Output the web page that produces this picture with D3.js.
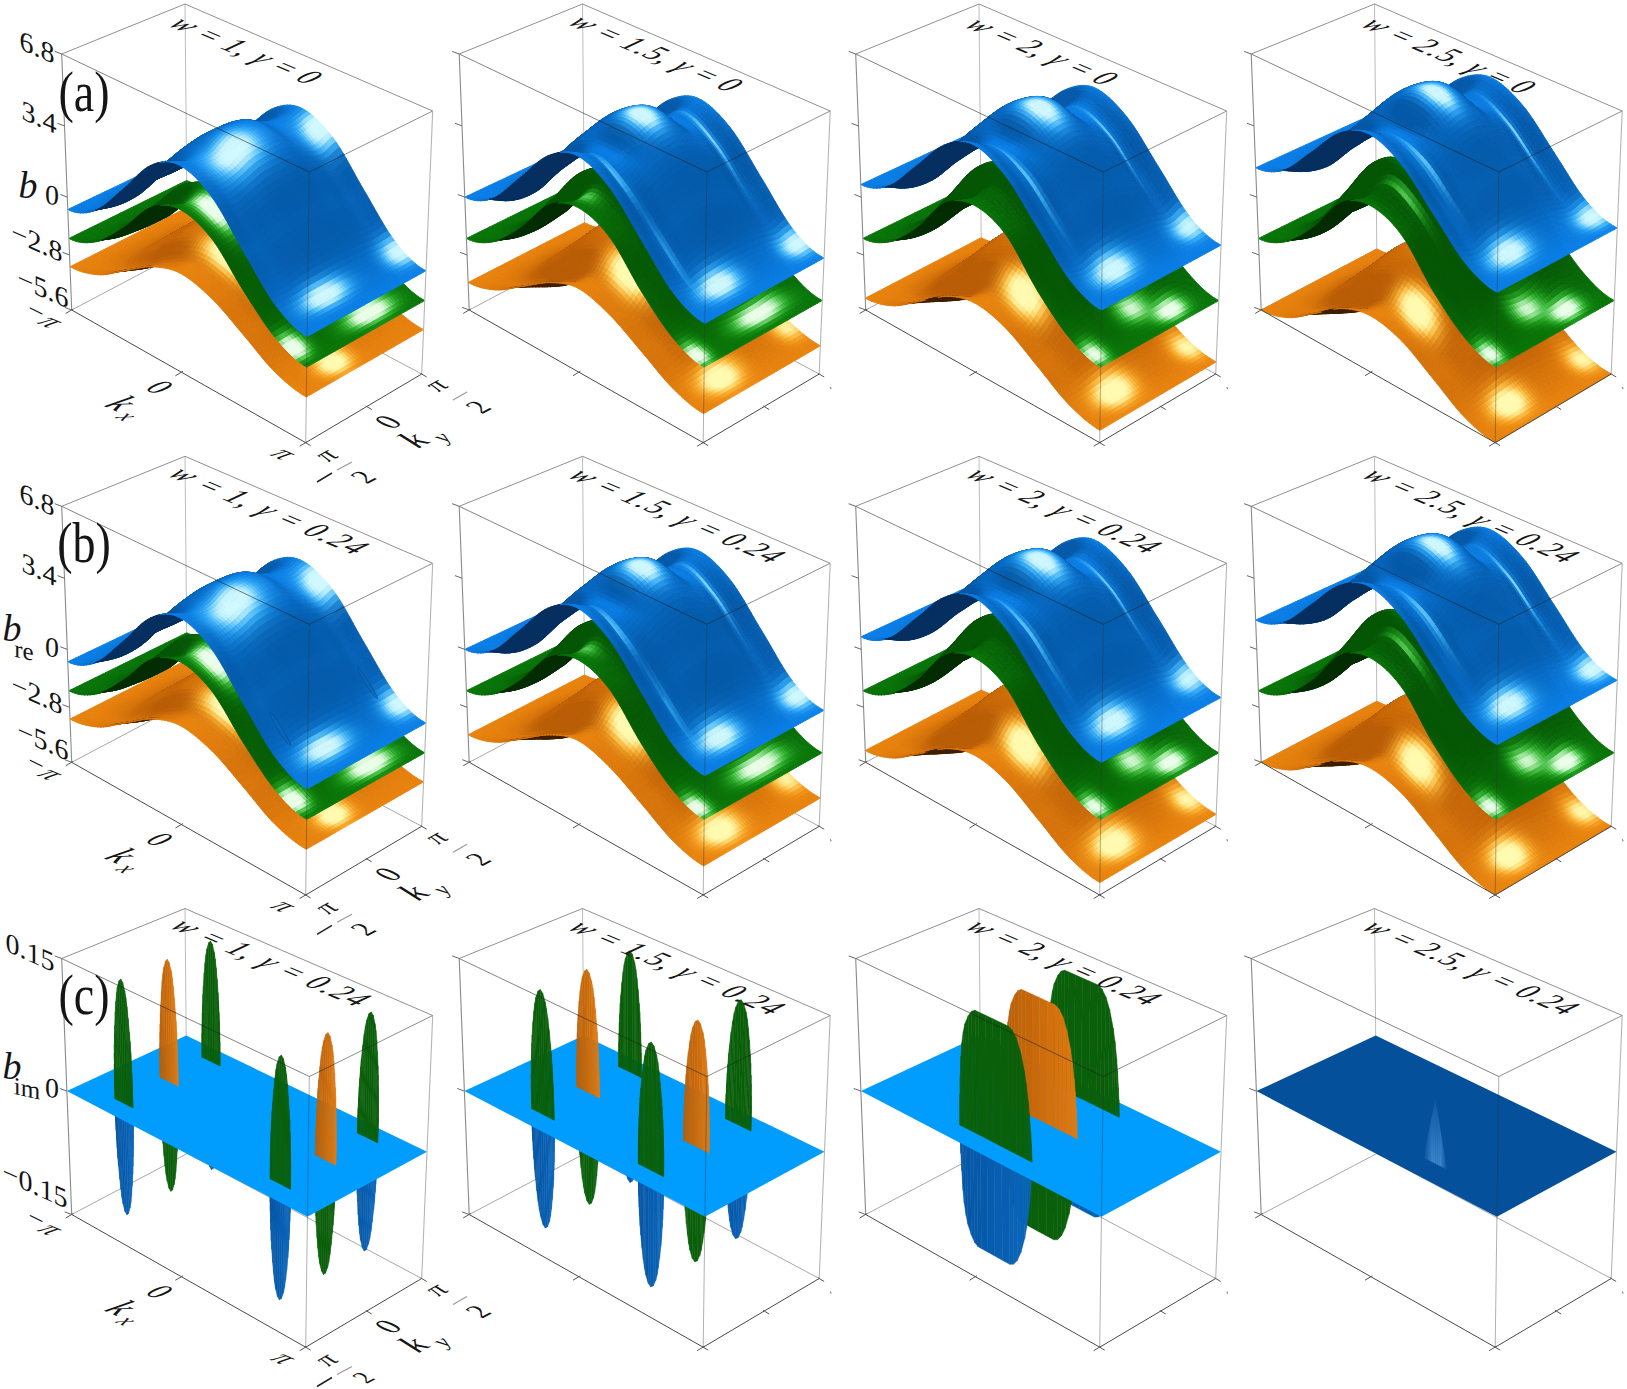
<!DOCTYPE html>
<html>
<head>
<meta charset="utf-8">
<script src="https://cdnjs.cloudflare.com/ajax/libs/d3/7.8.5/d3.min.js"></script>
<style>
  html,body{margin:0;padding:0;background:#fff;}
  text{font-family:"Liberation Serif",serif;fill:#151515;}
</style>
</head>
<body>
<svg id="chart" width="1627" height="1389"></svg>
<script>
'use strict';
const PI = Math.PI;

const couplings = ["1", "1.5", "2", "2.5"];
const gammas = ["0", "0.24", "0.24"];
const reTicks = [6.8, 3.4, 0, -2.8, -5.6];
const imTicks = [0.15, 0, -0.15];
const kxTicks = [-PI, 0, PI];
const kyTicks = [-PI / 2, 0, PI / 2];

// band height, kx = 0..pi (columns), ky = 0..pi/2 (rows 0-4)
// row 5 is ky = 3pi/8 again but on the far side kx < 0, where the surface folds under
const blueW1 = [[4.6,3.85,2,.15,-.6],[4.5,3.8,1.95,.12,-.6],[4.05,3.5,1.85,.1,-.6],[4.05,3.3,1.6,.03,-.6],[4.25,3.55,1.75,.07,-.6],[4.05,2.95,1.15,-.1,-.6]];
const blueW15 = [[5.4,4.6,2.7,.75,0],[5.2,4.4,2.6,.72,0],[4.3,4,2.35,.65,0],[4.4,3.6,1.95,.5,0],[4.7,4,2.3,.64,0],[4.4,3.1,1.3,.2,0]];
const blueW2 = [[5.8,5.05,3.2,1.32,.6],[5.6,4.85,3.1,1.28,.6],[4.65,4.4,2.85,1.2,.6],[4.75,4.05,2.45,1.05,.6],[5.2,4.5,2.85,1.23,.6],[4.75,3.5,1.85,.8,.6]];
const blueW25 = [[6.5,5.75,3.9,2.1,1.4],[6.3,5.55,3.8,2.05,1.4],[5.2,5,3.55,1.95,1.4],[5.3,4.6,3.1,1.8,1.4],[5.7,5.05,3.5,1.98,1.4],[5.3,4.1,2.5,1.6,1.4]];
const greenW1 = [[1.9,1.33,-.05,-1.43,-2],[2.1,1.5,0,-1.42,-2],[2.5,1.9,.3,-1.35,-2],[2.2,1.6,.15,-1.4,-2],[2.2,1.6,-.05,-1.43,-2],[2.2,.8,-.5,-1.6,-2]];
const greenW15 = [[1.7,1.15,-.15,-1.45,-2],[2.2,1.6,.05,-1.4,-2],[3.3,2.5,.6,-1.25,-2],[2.6,1.9,.3,-1.35,-2],[2.3,1.7,-.05,-1.43,-2],[2.6,1,-.5,-1.6,-2]];
const greenW2 = [[1.6,1.05,-.2,-1.47,-2],[2.3,1.7,.1,-1.38,-2],[3.6,2.75,.75,-1.2,-2],[2.8,2.1,.4,-1.3,-2],[2.4,1.8,-.05,-1.43,-2],[2.8,1.1,-.5,-1.6,-2]];
const greenW25 = [[1.5,.97,-.25,-1.48,-2],[2.3,1.7,.1,-1.38,-2],[3.8,2.95,.85,-1.15,-2],[3,2.3,.5,-1.25,-2],[2.4,1.8,-.05,-1.43,-2],[3,1.2,-.5,-1.6,-2]];
const orangeW1 = [[.5,-.07,-1.45,-2.83,-3.4],[.35,-.2,-1.5,-2.85,-3.4],[-.1,-.55,-1.75,-2.9,-3.4],[-.75,-1.1,-2.05,-3,-3.4],[-.8,-1.2,-2.1,-3.03,-3.4],[-.75,-1.4,-2.35,-3.1,-3.4]];
const orangeW15 = [[.2,-.44,-2,-3.56,-4.2],[0,-.6,-2.1,-3.6,-4.2],[-.6,-1.15,-2.4,-3.7,-4.2],[-1.4,-1.85,-2.85,-3.8,-4.2],[-1.5,-1.95,-2.85,-3.8,-4.2],[-1.4,-2.4,-3.2,-3.9,-4.2]];
const orangeW2 = [[-.3,-1,-2.65,-4.3,-5],[-.5,-1.2,-2.75,-4.33,-5],[-1.2,-1.75,-3.1,-4.45,-5],[-2.1,-2.5,-3.55,-4.55,-5],[-2.2,-2.6,-3.6,-4.6,-5],[-2.1,-3.1,-3.95,-4.7,-5]];
const orangeW25 = [[-.9,-1.6,-3.25,-4.9,-5.6],[-1.1,-1.8,-3.35,-4.95,-5.6],[-1.8,-2.35,-3.7,-5.05,-5.6],[-2.7,-3.15,-4.15,-5.15,-5.6],[-2.8,-3.2,-4.2,-5.2,-5.6],[-2.7,-3.7,-4.55,-5.25,-5.6]];

// glossy spots seen on each band: [along kx, along ky, width kx, width ky, strength], as axis fractions
const spotsBlueW1 = [[.52,.35,.045,.12,1],[.56,.97,.04,.08,1],[.91,.33,.025,.12,1],[.9,.97,.03,.08,.9]];
const spotsBlueW15 = [[.49,.5,.04,.06,1.1],[.58,.87,.07,.012,.5],[.91,.95,.03,.08,.9],[.91,.3,.028,.1,1],[.56,.13,.05,.012,.5],[.78,.15,.06,.012,.25]];
const spotsBlueW2 = [[.5,.5,.045,.06,1.1],[.6,.85,.07,.01,.45],[.89,.95,.03,.08,.8],[.9,.3,.03,.1,1],[.6,.17,.08,.01,.45]];
const spotsBlueW25 = [[.5,.5,.045,.05,1.1],[.63,.87,.07,.01,.5],[.92,.95,.03,.08,.9],[.9,.3,.03,.1,1],[.6,.18,.07,.012,.45]];
const spotsGreenW1 = [[.53,.15,.05,.05,1.1],[.92,.05,.03,.06,1.1],[.94,.65,.025,.12,1.1]];
const spotsGreenW15 = [[.46,.1,.03,.03,.4],[.95,.04,.03,.05,1],[.93,.6,.025,.13,1]];
const spotsGreenW2 = [[.95,.05,.03,.05,.9],[.945,.7,.025,.08,1],[.88,.5,.03,.08,.7]];
const spotsGreenW25 = [[.55,.15,.05,.012,.45],[.95,.05,.03,.05,.9],[.945,.7,.025,.08,1],[.88,.5,.03,.08,.7]];
const spotsOrangeW1 = [[.54,.25,.06,.05,1],[.94,.35,.03,.08,1.1]];
const spotsOrangeW15 = [[.56,.25,.05,.06,1.1],[.92,.3,.035,.1,1.1],[.88,.95,.035,.07,.7]];
const spotsOrangeW2 = [[.57,.22,.05,.055,1.1],[.91,.3,.035,.1,1.1],[.9,.95,.035,.07,.8]];
const spotsOrangeW25 = [[.57,.2,.05,.05,1.1],[.91,.3,.035,.09,1.1],[.9,.95,.035,.07,.8]];

const blueBands = [blueW1, blueW15, blueW2, blueW25];
const greenBands = [greenW1, greenW15, greenW2, greenW25];
const orangeBands = [orangeW1, orangeW15, orangeW2, orangeW25];
const blueSpots = [spotsBlueW1, spotsBlueW15, spotsBlueW2, spotsBlueW25];
const greenSpots = [spotsGreenW1, spotsGreenW15, spotsGreenW2, spotsGreenW25];
const orangeSpots = [spotsOrangeW1, spotsOrangeW15, spotsOrangeW2, spotsOrangeW25];

// imaginary part: thin sheets at fixed ky
const sheetKy = [-.36 * PI, 0, .37 * PI];
const sheetKx = [[-.65 * PI, .65 * PI], [-.46 * PI, .44 * PI], [.02 * PI], []];
const sheetHalfWidth = [.08 * PI, .1 * PI, .3 * PI];
const sheetUp = [.14, .14, .137];
const sheetDown = [.135, .137, .135];
const sheetT = [0,.01,.02,.035,.05,.075,.1,.15,.2,.25,.3,.4,.5,.6,.7,.75,.8,.85,.9,.925,.95,.965,.98,.99,1];
const sheetThin = [0,.2,.28,.37,.44,.53,.6,.71,.8,.87,.92,.98,1,.98,.92,.87,.8,.71,.6,.53,.44,.37,.28,.2,0];
const sheetWide = [0,.25,.4,.57,.68,.78,.85,.93,.98,1,1,1,1,1,1,.98,.93,.84,.7,.6,.47,.37,.24,.14,0];
const glowProfile = [0,.02,.04,.07,.1,.15,.2,.3,.4,.5,.6,.8,1,.8,.6,.5,.4,.3,.2,.15,.1,.07,.04,.02,0];
const glowKx = .36 * PI, glowKy = -.34 * PI, glowHalfWidth = .09 * PI, glowHeight = .072;

// small rings left on the top band of row (b) where the sheets of row (c) start
const ringOpacity = [.7, .3];

const upColors = ["#0a5f0a", "orange", "#0a5f0a"];
const downColors = ["blue", "#0a5f0a", "blue"];

// box of the first panel; the others are shifted copies of it
const boxBottom = {A:[71.7,310], B:[305.7,442.7], C:[421.7,374], D:[187.3,249]};
const boxTop = {A:[61.7,54], B:[309.3,172], C:[432.7,111], D:[185,4]};
const colShift = [0, 397.5, 794, 1189.5];
const rowShift = [0, 452.3, 904.5];

const xScale = d3.scaleLinear().domain([-PI, 0, PI]).range([0, .469, 1]);
const yScale = d3.scaleLinear().domain([-PI / 2, 0, PI / 2]).range([0, .526, 1]);
const zRe = d3.scaleLinear().domain([-5.6, -2.8, 0, 3.4, 6.8]).range([0, .215, .441, .719, 1]);
const zIm = d3.scaleLinear().domain([-.15, 0, .15]).range([0, .482, 1]);

const bandLook = [
  {flat:"#e8820d", steep:"#b95c05", under:"#3d1f00", mid:"#ffb52e", hot:"#fffab0"},
  {flat:"#087508", steep:"#055605", under:"#032c03", mid:"#2cc02c", hot:"#eaffea"},
  {flat:"#0a7ee6", steep:"#0559a8", under:"#062f5f", mid:"#35b4ff", hot:"#d0f8ff"}
];

const svg = d3.select("#chart");
const defs = svg.append("defs");
const lineGen = d3.line();
const NU = 72, NV = 48;

function projector(col, row, z) {
  const dx = colShift[col], dy = rowShift[row];
  return function(kx, ky, val) {
    const u = xScale(kx), v = yScale(ky), w = z(val);
    const mix = (c) => {
      const a0 = boxBottom.A[c], b0 = boxBottom.B[c], c0 = boxBottom.C[c], d0 = boxBottom.D[c];
      const a1 = boxTop.A[c], b1 = boxTop.B[c], c1 = boxTop.C[c], d1 = boxTop.D[c];
      const lo = (a0 * (1 - u) + b0 * u) * (1 - v) + (d0 * (1 - u) + c0 * u) * v;
      const hi = (a1 * (1 - u) + b1 * u) * (1 - v) + (d1 * (1 - u) + c1 * u) * v;
      return +(lo * (1 - w) + hi * w + (c === 0 ? dx : dy)).toFixed(2);
    };
    return [mix(0), mix(1)];
  };
}

function catmull(p0, p1, p2, p3, t) {
  return .5 * (2 * p1 + (p2 - p0) * t + (2 * p0 - 5 * p1 + 4 * p2 - p3) * t * t + (3 * p1 - p0 - 3 * p2 + p3) * t * t * t);
}
function fold(i) {
  const a = Math.abs(i);
  return a > 4 ? 8 - a : a;
}
function tableValue(tab, i, j) {
  const row = fold(j);
  return tab[i < 0 && row === 3 ? 5 : row][fold(i)];
}
// smooth reading of a table, mirrored in ky and, apart from row 5, in kx
function heightAt(tab, kx, ky) {
  const gx = kx / (PI / 4), gy = ky / (PI / 8);
  let ix = Math.floor(gx), iy = Math.floor(gy);
  if (ix >= 4) ix = 3;
  if (iy >= 4) iy = 3;
  const tx = gx - ix, ty = gy - iy, rows = [];
  for (let j = -1; j <= 2; j++) {
    const jj = iy + j;
    rows.push(catmull(tableValue(tab, ix - 1, jj), tableValue(tab, ix, jj), tableValue(tab, ix + 1, jj), tableValue(tab, ix + 2, jj), tx));
  }
  return catmull(rows[0], rows[1], rows[2], rows[3], ty);
}

function spotLevel(spots, u, v) {
  let s = 0;
  spots.forEach(p => {
    const a = (u - p[0]) / p[2], b = (v - p[1]) / p[3];
    s += p[4] * Math.exp(-.5 * (a * a + b * b));
  });
  return Math.min(1, s);
}

function buildNodes(tab) {
  const nodes = [];
  for (let i = 0; i <= NU; i++) {
    const col = [];
    const kx = -PI + 2 * PI * i / NU;
    for (let j = 0; j <= NV; j++) {
      const ky = -PI / 2 + PI * j / NV;
      col.push({kx, ky, b: heightAt(tab, kx, ky)});
    }
    nodes.push(col);
  }
  return nodes;
}

function drawBands(layer, col, row) {
  const at = projector(col, row, zRe);
  const bands = [orangeBands[col], greenBands[col], blueBands[col]].map(buildNodes);
  const spots = [orangeSpots[col], greenSpots[col], blueSpots[col]];
  const cells = [];
  // far corner first, lower band first: plain painter order for height fields
  for (let i = 0; i < NU; i++) {
    for (let j = NV - 1; j >= 0; j--) {
      bands.forEach((nodes, k) => {
        const n00 = nodes[i][j], n10 = nodes[i + 1][j], n11 = nodes[i + 1][j + 1], n01 = nodes[i][j + 1];
        const pts = [n00, n10, n11, n01].map(n => at(n.kx, n.ky, n.b));
        let area = 0;
        pts.forEach((p, q) => { const r = pts[(q + 1) % 4]; area += p[0] * r[1] - r[0] * p[1]; });
        const look = bandLook[k];
        let fill;
        if (area > 0) {
          fill = look.under;
        } else {
          const uA = xScale(n00.kx), uB = xScale(n10.kx), vA = yScale(n00.ky), vB = yScale(n01.ky);
          const dzu = 20.6 * ((n10.b + n11.b) - (n00.b + n01.b)) / 2 / (268 * (uB - uA));
          const dzv = 20.6 * ((n01.b + n11.b) - (n00.b + n10.b)) / 2 / (134 * (vB - vA));
          const nz = 1 / Math.sqrt(1 + dzu * dzu + dzv * dzv);
          const t = Math.max(0, Math.min(1, (nz - .62) / .38));
          const base = d3.interpolateRgb(look.steep, look.flat)(t);
          fill = d3.interpolateRgbBasis([base, look.mid, look.hot, look.hot])(spotLevel(spots[k], (uA + uB) / 2, (vA + vB) / 2));
        }
        cells.push({d: lineGen(pts) + "Z", fill});
      });
    }
  }
  layer.selectAll("path.cell").data(cells).join("path").attr("class", "cell")
    .attr("d", d => d.d).attr("fill", d => d.fill).attr("stroke", d => d.fill).attr("stroke-width", .9);

  if (row === 1 && col < 2) {
    [sheetKy[0], sheetKy[2]].forEach(ky0 => {
      const ring = d3.range(0, 2 * PI, PI / 12).map(a => {
        const kx = sheetKx[col][1] + sheetHalfWidth[col] * Math.cos(a), ky = ky0 + .015 * PI * Math.sin(a);
        return at(kx, ky, heightAt(blueBands[col], kx, ky));
      });
      layer.append("path").attr("d", lineGen(ring) + "Z").attr("fill", "#0a66ba")
        .attr("stroke", "#074a8c").attr("stroke-width", .8).attr("opacity", ringOpacity[col]);
    });
  }
}

function sheetColor(name, t) {
  if (name === "orange") return d3.interpolateRgb("#b85f08", "#e07b12")(t);
  if (name === "blue") return d3.interpolateRgb("#0555a5", "#0a66ba")(t);
  return name;
}

function drawSheet(layer, at, kx0, ky, half, height, prof, name) {
  const strips = d3.pairs(d3.range(sheetT.length)).map(([a, b]) => {
    const ka = kx0 - half + 2 * half * sheetT[a], kb = kx0 - half + 2 * half * sheetT[b];
    return {
      d: lineGen([at(ka, ky, 0), at(kb, ky, 0), at(kb, ky, height * prof[b]), at(ka, ky, height * prof[a])]) + "Z",
      fill: sheetColor(name, sheetT[a])
    };
  });
  layer.append("g").selectAll("path").data(strips).join("path")
    .attr("d", d => d.d).attr("fill", d => d.fill).attr("stroke", d => d.fill).attr("stroke-width", .5);
}

function drawGlow(layer, at) {
  const top = at(glowKx, glowKy, glowHeight), base = at(glowKx, glowKy, 0);
  const grad = defs.append("linearGradient").attr("id", "glowFade")
    .attr("gradientUnits", "userSpaceOnUse")
    .attr("x1", top[0]).attr("y1", top[1]).attr("x2", base[0]).attr("y2", base[1]);
  grad.append("stop").attr("offset", 0).attr("stop-color", "#4a94d8").attr("stop-opacity", .1);
  grad.append("stop").attr("offset", 1).attr("stop-color", "#4a94d8").attr("stop-opacity", .75);
  const strips = d3.pairs(d3.range(sheetT.length)).map(([a, b]) => {
    const ka = glowKx - glowHalfWidth + 2 * glowHalfWidth * sheetT[a], kb = glowKx - glowHalfWidth + 2 * glowHalfWidth * sheetT[b];
    return {
      d: lineGen([at(ka, glowKy, 0), at(kb, glowKy, 0), at(kb, glowKy, glowHeight * glowProfile[b]), at(ka, glowKy, glowHeight * glowProfile[a])]) + "Z",
      o: Math.min(1, glowProfile[a] * 1.8)
    };
  });
  layer.append("g").selectAll("path").data(strips).join("path")
    .attr("d", d => d.d).attr("fill", "url(#glowFade)").attr("fill-opacity", d => d.o);
}

function drawImag(layer, col) {
  const at = projector(col, 2, zIm);
  const prof = col === 2 ? sheetWide : sheetThin;
  const centers = sheetKx[col];
  const order = [2, 1, 0];
  centers.forEach(kx0 => order.forEach(s =>
    drawSheet(layer, at, kx0, sheetKy[s], sheetHalfWidth[col], -sheetDown[col], prof, downColors[s])));
  layer.append("path")
    .attr("d", lineGen([at(-PI, -PI / 2, 0), at(PI, -PI / 2, 0), at(PI, PI / 2, 0), at(-PI, PI / 2, 0)]) + "Z")
    .attr("fill", col === 3 ? "#05509a" : "#009dff");
  centers.forEach(kx0 => order.forEach(s =>
    drawSheet(layer, at, kx0, sheetKy[s], sheetHalfWidth[col], sheetUp[col], prof, upColors[s])));
  if (col === 3) drawGlow(layer, at);
}

function seg(layer, a, b, color, width) {
  layer.append("path").attr("d", lineGen([a, b])).attr("fill", "none")
    .attr("stroke", color).attr("stroke-width", width || 1);
}

function drawBox(back, front, col, row) {
  const z = row === 2 ? zIm : zRe;
  const lo = z.domain()[0], hi = z.domain()[z.domain().length - 1];
  const at = projector(col, row, z);
  const a0 = at(-PI, -PI / 2, lo), b0 = at(PI, -PI / 2, lo), c0 = at(PI, PI / 2, lo), d0 = at(-PI, PI / 2, lo);
  const a1 = at(-PI, -PI / 2, hi), b1 = at(PI, -PI / 2, hi), c1 = at(PI, PI / 2, hi), d1 = at(-PI, PI / 2, hi);
  seg(back, d0, d1, "#bdbdbd"); seg(back, d0, a0, "#a8a8a8"); seg(back, d0, c0, "#a8a8a8");
  seg(back, d1, a1, "#909090"); seg(back, d1, c1, "#909090");
  seg(front, a1, b1, "rgba(30,30,30,.55)"); seg(front, b1, c1, "rgba(30,30,30,.5)");
  seg(front, b1, b0, "rgba(50,50,50,.38)"); seg(front, a1, a0, "#8a8a8a", 1.1); seg(front, c1, c0, "#b5b5b5", 1.1);
  seg(front, a0, b0, "#4a4a4a"); seg(front, b0, c0, "#4a4a4a");

  const ticks = row === 2 ? imTicks : reTicks;
  ticks.forEach(t => {
    const p = at(-PI, -PI / 2, t);
    seg(front, [p[0] - 7, p[1] - 2.6], p, "#666");
  });
  kxTicks.forEach(t => {
    const p = at(t, -PI / 2, lo);
    seg(front, [p[0] - 6, p[1] + 3.5], [p[0] + 1.5, p[1] - 1], "#555");
  });
  kyTicks.forEach(t => {
    const p = at(PI, t, lo);
    seg(front, [p[0] - 1, p[1] - .6], [p[0] + 5, p[1] + 3], "#555");
  });
  if (col > 0) seg(front, [c0[0] + 11, c0[1] + 13], [c0[0] + 12, c0[1] + 15], "#888", 1.2);
}

// the labels lie on the box planes, so each family gets its own shear
const shearUpright = "skewY(24)";
const shearKx = "matrix(.98,.416,-1.11,.518,0,0)";
const shearKy = "matrix(.9,-.48,1.1,.51,0,0)";

function text(layer, str, x, y, shear, size, italic) {
  return layer.append("text").text(str)
    .attr("text-anchor", "middle").attr("dominant-baseline", "central")
    .attr("transform", `translate(${x},${y}) ${shear}`)
    .attr("font-size", size).attr("font-style", italic ? "italic" : "normal");
}

// centre of each title and its length on the page
const titleCentre = [[[247,50],[657,53],[1043,51],[1450,55]],[[270,510],[678,515],[1065,510],[1472,515]],[[272,962],[678,967],[1065,962],[1472,967]]];
const titleLength = [[152,175,152,175],[203,221,198,221],[203,221,198,221]];

function drawTitle(layer, col, row) {
  const c = titleCentre[row][col];
  const t = layer.append("text")
    .attr("text-anchor", "middle").attr("dominant-baseline", "central")
    .attr("transform", `translate(${c[0]},${c[1]}) ${shearKx}`)
    .attr("font-size", 27)
    .attr("textLength", titleLength[row][col] / 1.065).attr("lengthAdjust", "spacing");
  t.append("tspan").attr("font-style", "italic").text("w");
  t.append("tspan").text(` = ${couplings[col]}, `);
  t.append("tspan").attr("font-style", "italic").text("γ");
  t.append("tspan").text(` = ${gammas[row]}`);
}

function drawAxisLabels(layer, row) {
  const dy = rowShift[row];
  if (row < 2) {
    text(layer, "6.8", 37, 47 + dy, shearUpright, 28);
    text(layer, "3.4", 39, 117 + dy, shearUpright, 28);
    text(layer, "0", 52, 195 + dy, "skewY(6)", 28);
    text(layer, "−2.8", 37, 242 + dy, shearUpright, 28);
    text(layer, "−5.6", 43, 288 + dy, shearUpright, 28);
  } else {
    text(layer, "0.15", 30, 952, shearUpright, 28);
    text(layer, "0", 52, 1088, "skewY(6)", 28);
    text(layer, "−0.15", 35, 1185, shearUpright, 28);
  }
  if (row === 0) text(layer, "b", 28, 185, "", 38, true);
  if (row === 1) {
    text(layer, "b", 12, 628, "", 38, true);
    text(layer, "re", 24, 650, "skewY(12)", 25);
  }
  if (row === 2) {
    text(layer, "b", 12, 1066, "", 38, true);
    text(layer, "im", 27, 1088, "skewY(12)", 25);
  }
  text(layer, "−", 36, 311 + dy + (row === 2 ? 3 : 0), "skewY(26)", 27);
  text(layer, "π", 52, 321 + dy + (row === 2 ? 3 : 0), shearKx, 25, true);
  text(layer, "0", 160, 387 + dy, shearKx, 27);
  text(layer, "k", 122, 403 + dy, shearKx, 32, true);
  text(layer, "x", 127, 416 + dy, shearKx, 21, true);
  text(layer, "π", 285, 453 + dy, shearKx, 25, true);
  text(layer, "0", 388, 422 + dy, shearKy, 27);
  text(layer, "k", 413, 440 + dy, shearKy, 32, true);
  text(layer, "y", 441, 437 + dy, shearKy, 21, true);
  // pi/2 fractions on the ky axis; the last row sits against the page bottom
  const low = row === 2 ? 4 : 0;
  text(layer, "π", 435, 385 + dy, shearKy, 25, true);
  seg(layer, [453, 400 + dy], [467, 392 + dy], "#9a9a9a", 1.2);
  text(layer, "2", 478, 407 + dy, shearKy, 25);
  text(layer, "π", 325, 455 + dy, shearKy, 25, true);
  seg(layer, [337, 470 + dy], [352, 462 + dy], "#9a9a9a", 1.2);
  seg(layer, [317, 482 + dy], [332, 473 + dy], "#222", 1.5);
  text(layer, "2", 363, 477 + dy - low, shearKy, row === 2 ? 22 : 25);
}

const panelTags = ["(a)", "(b)", "(c)"];
const tagCentre = [92, 543, 995];

rowShift.forEach((_, row) => {
  colShift.forEach((_, col) => {
    const panel = svg.append("g");
    const back = panel.append("g");
    const surf = panel.append("g").style("filter", "blur(.6px)");
    const front = panel.append("g");
    drawBox(back, front, col, row);
    if (row < 2) drawBands(surf, col, row);
    else drawImag(surf, col);
  });
});

const labels = svg.append("g");
rowShift.forEach((_, row) => {
  colShift.forEach((_, col) => drawTitle(labels, col, row));
  drawAxisLabels(labels, row);
  text(labels, panelTags[row], 84, tagCentre[row], "scale(1,1.22)", 46);
});
</script>
</body>
</html>
